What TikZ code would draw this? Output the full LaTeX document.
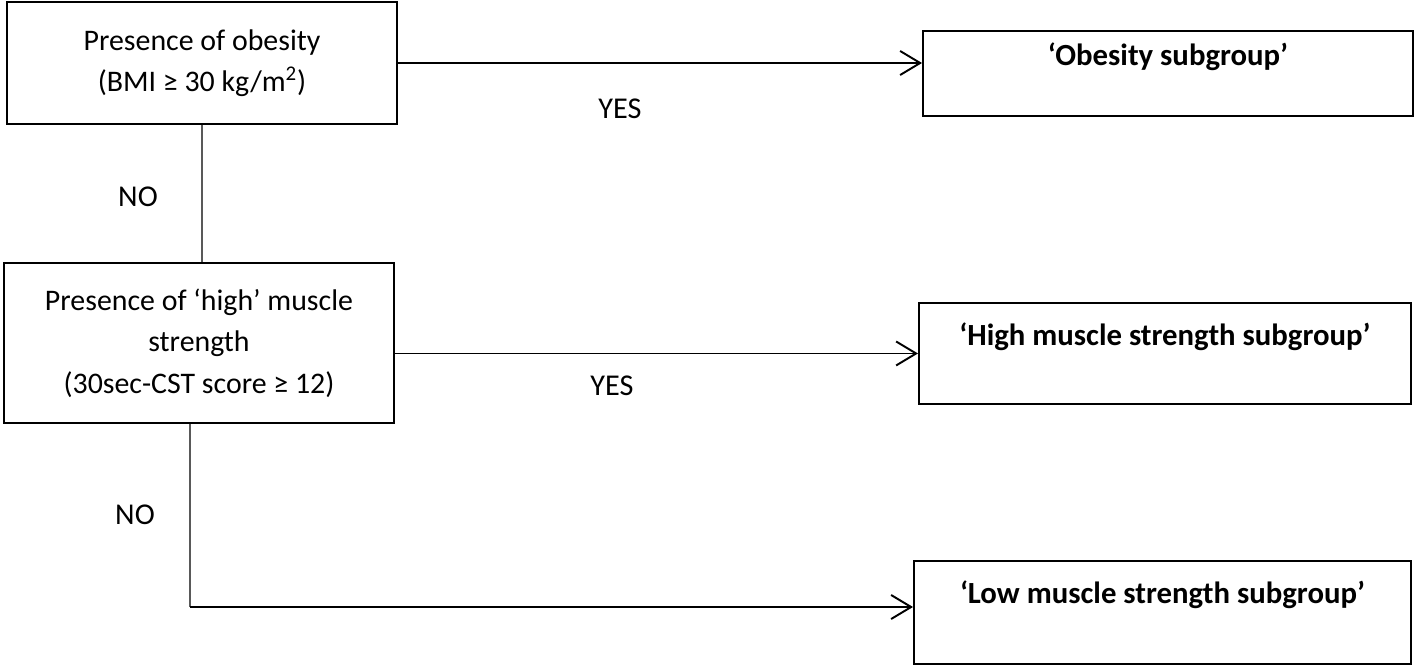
\documentclass[tikz,border=0pt]{standalone}
\usepackage{fontspec}
\setmainfont{Carlito}
\usepackage{tikz}
\usetikzlibrary{arrows.meta,calc}

\tikzset{
    testbox/.style={draw, line width=1.1pt, minimum width=7.8cm, align=center, inner sep=0pt,
        font=\fontsize{17pt}{23.5pt}\selectfont},
    groupbox/.style={draw, line width=1.1pt, anchor=north west, align=center, inner sep=0pt,
        font=\fontsize{17.5pt}{23.5pt}\selectfont\bfseries},
    answer/.style={font=\fontsize{17.2pt}{20pt}\selectfont},
    yesarrow/.style={line width=1.1pt, -{Straight Barb[length=4mm,width=4.8mm,line width=1.1pt]}},
    nolink/.style={line width=0.6pt, gray!70!black}
}

\begin{document}
\begin{tikzpicture}

    \useasboundingbox (0,0) rectangle (28.32,-13.34);

    % decision boxes on the left
    \node[testbox, minimum height=2.44cm] (obese) at (4.04,-1.26)
        {Presence of obesity\\(BMI ≥ 30 kg/m\textsuperscript{2})};
    \node[testbox, minimum height=3.2cm] (strong) at (3.98,-6.86)
        {Presence of ‘high’ muscle\\strength\\(30sec-CST score ≥ 12)};

    % subgroups on the right (text sits near the top edge)
    \node[groupbox, minimum width=9.8cm, text height=0.7cm, text depth=1.0cm] (obesegrp) at (18.44,-0.6)
        {‘Obesity subgroup’};
    \node[groupbox, minimum width=9.84cm, text height=0.86cm, text depth=1.16cm] (highgrp) at (18.36,-6.04)
        {‘High muscle strength subgroup’};
    \node[groupbox, minimum width=9.94cm, text height=0.86cm, text depth=1.2cm] (lowgrp) at (18.26,-11.2)
        {‘Low muscle strength subgroup’};

    % YES branches
    \draw[yesarrow] (obese.east) -- (obese.east -| obesegrp.west);
    \draw[yesarrow] (strong.east |- highgrp.west) -- (highgrp.west);
    \node[answer] (yes1) at (12.4,-2.18) {YES};
    \node[answer] (yes2) at (12.24,-7.72) {YES};

    % NO branches
    \draw[nolink] (obese.south) -- (obese.south |- strong.north);
    \coordinate (corner) at (3.8,-12.14);
    \draw[nolink] (corner |- strong.south) -- (corner);
    \draw[yesarrow] (corner) -- (corner -| lowgrp.west);
    \node[answer] (no1) at (2.76,-3.94) {NO};
    \node[answer] (no2) at (2.7,-10.3) {NO};

\end{tikzpicture}
\end{document}
